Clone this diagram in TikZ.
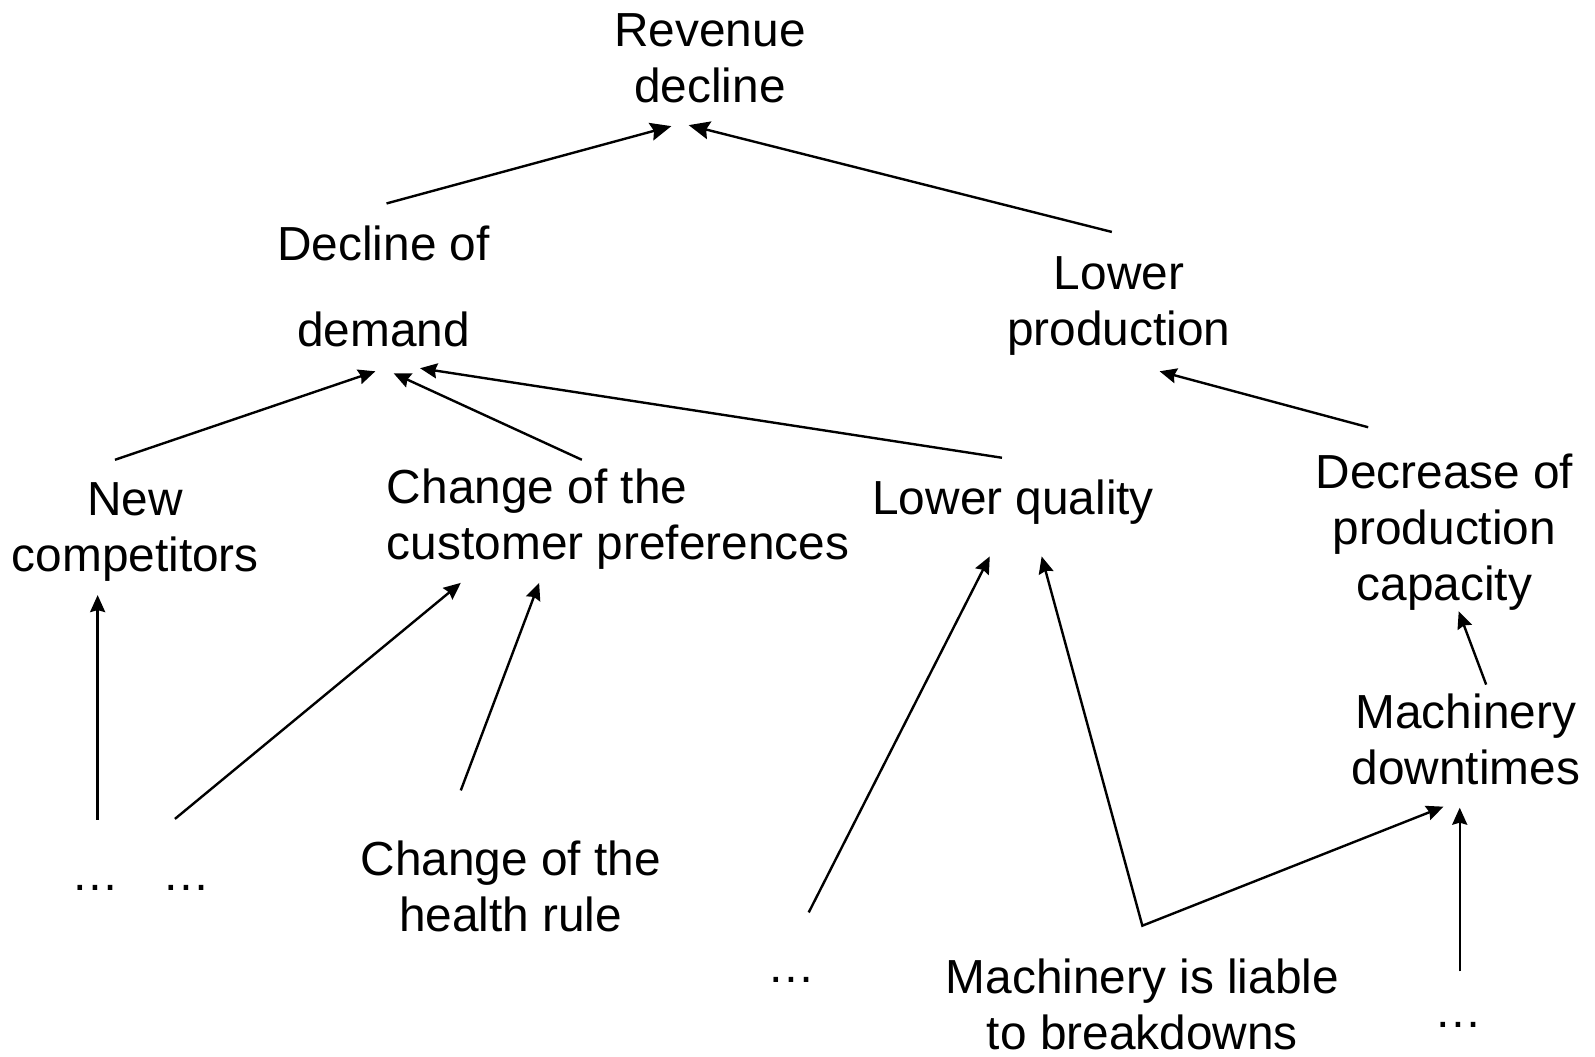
\documentclass[tikz,border=0pt]{standalone}
\usepackage{fontspec}
\setmainfont{Liberation Sans}
\usetikzlibrary{arrows.meta}

\begin{document}
\begin{tikzpicture}[x=0.5086pt,y=-0.5086pt,
	line/.style={-{Stealth[length=8.5pt,width=7.5pt,inset=1pt]},line width=1.2pt},
	bigline/.style={-{Stealth[length=10.5pt,width=9pt,inset=1.5pt]},line width=1.2pt},
	twoline/.style={{Stealth[length=8.5pt,width=7.5pt,inset=1pt]}-{Stealth[length=8.5pt,width=7.5pt,inset=1pt]},line width=1.2pt},
	cause/.style={align=center,inner sep=0pt,font=\fontsize{23.9}{28}\selectfont}]
		\useasboundingbox (0,0) rectangle (1568,1039);

		\node[cause] (rev) at (698,57) {Revenue\\decline};
		\node[cause] (dem) at (377,281.5) {Decline of\\[15pt]demand};
		\node[cause] (lp) at (1100,301) {Lower\\production};
		\node[cause] (nc) at (133,523) {New\\competitors};
		\node[cause,align=left,anchor=west] (cp) at (380,510.5) {Change of the\\customer preferences};
		\node[cause] (lq) at (996,494) {Lower quality};
		\node[cause] (dpc) at (1420,523) {Decrease of\\production\\capacity};
		\node[cause] (md) at (1441,726.5) {Machinery\\downtimes};
		\node[cause] (hr) at (502,871.5) {Change of the\\health rule};
		\node[cause] (ml) at (1123,987.5) {Machinery is liable\\to breakdowns};
		\node[cause,anchor=base] (dots1) at (94,875) {…};
		\node[cause,anchor=base] (dots2) at (183.5,875) {…};
		\node[cause,anchor=base] (dots3) at (778,966) {…};
		\node[cause,anchor=base] (dots4) at (1434,1010) {…};

		%rev lines
		\coordinate (rev-l) at (660,124);
		\coordinate (rev-r) at (677,123);
		\coordinate (dem-out) at (380,200);
		\coordinate (lp-out) at (1093,228);
		\draw[bigline] (dem-out) -- (rev-l);
		\draw[bigline] (lp-out) -- (rev-r);

		%dem lines
		\coordinate (dem-1) at (369,365);
		\coordinate (dem-2) at (387,367);
		\coordinate (dem-3) at (413,362);
		\coordinate (nc-out) at (113,452);
		\coordinate (cp-out) at (572,452);
		\coordinate (lq-out) at (985,450);
		\draw[line] (nc-out) -- (dem-1);
		\draw[line] (cp-out) -- (dem-2);
		\draw[line] (lq-out) -- (dem-3);

		%lp lines
		\coordinate (lp-in) at (1140,365);
		\coordinate (dpc-out) at (1345,420);
		\draw[line] (dpc-out) -- (lp-in);

		%nc and cp lines
		\coordinate (nc-in) at (96,585);
		\coordinate (dots1-out) at (96,806);
		\coordinate (cp-l) at (453,573);
		\coordinate (cp-r) at (530,573);
		\coordinate (dots2-out) at (172,805);
		\coordinate (hr-out) at (453,777);
		\draw[line] (dots1-out) -- (nc-in);
		\draw[line] (dots2-out) -- (cp-l);
		\draw[line] (hr-out) -- (cp-r);

		%lq and md lines
		\coordinate (lq-l) at (973,547);
		\coordinate (lq-r) at (1024,547);
		\coordinate (dots3-out) at (795,897);
		\coordinate (ml-out) at (1123,910);
		\coordinate (md-l) at (1419,793);
		\coordinate (md-r) at (1435,794);
		\coordinate (dots4-out) at (1435,955);
		\draw[line] (dots3-out) -- (lq-l);
		\draw[twoline] (lq-r) -- (ml-out) -- (md-l);
		\draw[line] (dots4-out) -- (md-r);

		%dpc lines
		\coordinate (dpc-in) at (1434,601);
		\coordinate (md-out) at (1461,673);
		\draw[line] (md-out) -- (dpc-in);

	\end{tikzpicture}
\end{document}
